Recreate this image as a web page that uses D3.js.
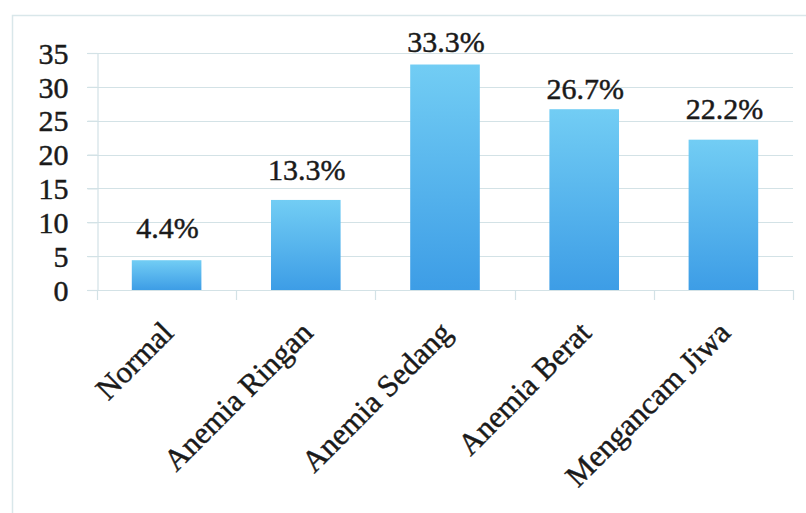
<!DOCTYPE html>
<html>
<head>
<meta charset="utf-8">
<script src="https://cdn.jsdelivr.net/npm/d3@7"></script>
<style>
  html, body { margin: 0; padding: 0; background: #fff; }
  svg { display: block; }
  svg text { font-family: "Liberation Serif", "Times New Roman", Times, serif; fill: #1a1a1a; stroke: #1a1a1a; stroke-width: 0.45px; }
</style>
</head>
<body>
<svg id="chart" width="806" height="513"></svg>
<script>
// Anemia severity categories and their share (%)
const categories = ["Normal", "Anemia Ringan", "Anemia Sedang", "Anemia Berat", "Mengancam Jiwa"];
const values = [4.4, 13.3, 33.3, 26.7, 22.2];
const valueLabels = ["4.4%", "13.3%", "33.3%", "26.7%", "22.2%"];
const yTicks = [0, 5, 10, 15, 20, 25, 30, 35];

const svg = d3.select("#chart");
const gridColor = "#d3e2e6";

// Chart frame (only top and left edges fall inside the canvas)
svg.append("rect")
  .attr("x", 12.5).attr("y", 15.5)
  .attr("width", 820).attr("height", 520)
  .attr("fill", "#fff")
  .attr("stroke", "#d9e7ea").attr("stroke-width", 1.5);

const plot = { left: 97, right: 793, top: 53, bottom: 290 };

const x = d3.scaleBand()
  .domain(categories)
  .range([plot.left, plot.right])
  .paddingInner(0.5)
  .paddingOuter(0.25);

const y = d3.scaleLinear()
  .domain([0, 35])
  .range([plot.bottom, plot.top]);

// Bar gradient: light cyan at top to deeper blue at the base
const defs = svg.append("defs");
const grad = defs.append("linearGradient")
  .attr("id", "barGrad")
  .attr("x1", 0).attr("y1", 0).attr("x2", 0).attr("y2", 1);
grad.append("stop").attr("offset", "0%").attr("stop-color", "#72cdf4");
grad.append("stop").attr("offset", "100%").attr("stop-color", "#3d9de6");

// Horizontal gridlines with short ticks reaching left of the axis
svg.append("g")
  .selectAll("line")
  .data(yTicks.filter(d => d > 0))
  .join("line")
  .attr("x1", plot.left - 10).attr("x2", plot.right)
  .attr("y1", d => Math.round(y(d)) + 0.5).attr("y2", d => Math.round(y(d)) + 0.5)
  .attr("stroke", gridColor).attr("stroke-width", 1.2);

// Y axis
const yAxis = svg.append("g")
  .attr("transform", `translate(${plot.left + 0.5},0)`)
  .call(d3.axisLeft(y).tickValues(yTicks).tickSize(10).tickPadding(19).tickFormat(d3.format("d")));
yAxis.attr("font-family", null).attr("font-size", null);
yAxis.select(".domain").attr("stroke", gridColor).attr("stroke-width", 1.2);
yAxis.selectAll(".tick line").attr("stroke", gridColor).attr("stroke-width", 1.2);
yAxis.selectAll(".tick text")
  .style("font-size", "30px")
  .attr("fill", null)
  .attr("dy", "0.34em");

// X axis baseline with ticks at category boundaries
const boundaries = d3.range(categories.length + 1).map(i => plot.left + i * x.step());
svg.append("line")
  .attr("x1", plot.left - 10).attr("x2", plot.right)
  .attr("y1", plot.bottom + 0.5).attr("y2", plot.bottom + 0.5)
  .attr("stroke", gridColor).attr("stroke-width", 1.2);
svg.append("g")
  .selectAll("line")
  .data(boundaries)
  .join("line")
  .attr("x1", d => Math.round(d) + 0.5).attr("x2", d => Math.round(d) + 0.5)
  .attr("y1", plot.bottom).attr("y2", plot.bottom + 10)
  .attr("stroke", gridColor).attr("stroke-width", 1.2);

// Bars
svg.append("g")
  .selectAll("rect")
  .data(values)
  .join("rect")
  .attr("x", (d, i) => x(categories[i]))
  .attr("y", d => y(d))
  .attr("width", x.bandwidth())
  .attr("height", d => y(0) - y(d))
  .attr("fill", "url(#barGrad)");

// Value labels above bars (lift nudged where labels would collide with the top)
const labelLift = [22, 20, 13, 10, 21];
svg.append("g")
  .selectAll("text")
  .data(values)
  .join("text")
  .attr("x", (d, i) => x(categories[i]) + x.bandwidth() / 2 + 1)
  .attr("y", (d, i) => y(d) - labelLift[i])
  .attr("text-anchor", "middle")
  .style("font-size", "30px")
  .text((d, i) => valueLabels[i]);

// Rotated category labels
svg.append("g")
  .selectAll("text")
  .data(categories)
  .join("text")
  .attr("transform", d => `translate(${x(d) + x.bandwidth() / 2 - 7},${plot.bottom + 29}) rotate(-45)`)
  .attr("text-anchor", "end")
  .attr("dy", "0.71em")
  .style("font-size", "31px")
  .text(d => d);
</script>
</body>
</html>
